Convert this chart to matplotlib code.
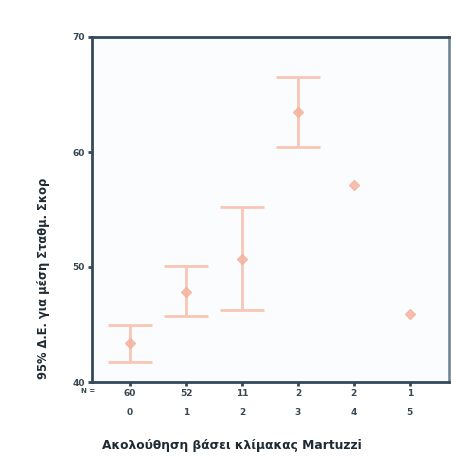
import matplotlib
matplotlib.use("Agg")
import matplotlib.pyplot as plt

# Groups (follow-up score) and 95% CI of the mean
categories = [0, 1, 2, 3, 4, 5]
counts = ["60", "52", "11", "2", "2", "1"]
means = [43.4, 47.8, 50.7, 63.5, 57.1, 45.9]
ci_low = [41.7, 45.7, 46.3, 60.4, 57.1, 45.9]
ci_high = [45.0, 50.1, 55.2, 66.5, 57.1, 45.9]

y_ticks = [40, 50, 60, 70]
x_label = "Ακολούθηση βάσει κλίμακας Martuzzi"
y_label = "95% Δ.Ε. για μέση Σταθμ. Σκορ"

bar_color = "#f8c6b4"
axis_color = "#34495a"

fig = plt.figure(figsize=(4.57, 4.58), dpi=100)
fig.patch.set_facecolor("white")
ax = fig.add_axes([92 / 457, 1 - 382 / 458, (449 - 92) / 457, (382 - 37) / 458])
ax.set_facecolor("#fbfcfe")

lower_err = [m - lo for m, lo in zip(means, ci_low)]
upper_err = [hi - m for m, hi in zip(means, ci_high)]
for x, m, le, ue in zip(categories, means, lower_err, upper_err):
    if le > 0 or ue > 0:
        ax.errorbar([x], [m], yerr=[[le], [ue]], fmt="none", ecolor=bar_color,
                    elinewidth=2.0, capsize=16, capthick=2.0, zorder=2)
ax.plot(categories, means, linestyle="none", marker="D", markersize=5,
        color="#f4b29c", alpha=0.8, zorder=3)

ax.set_xlim(-0.68, 5.7)
ax.set_ylim(40, 70)
ax.set_yticks(y_ticks)
ax.set_yticklabels([str(t) for t in y_ticks], fontsize=6.5, fontweight="bold",
                   color="#3a4750")
ax.set_xticks(categories)
ax.set_xticklabels([f"{c}\n\n{k}" for c, k in zip(counts, categories)],
                   fontsize=6.5, fontweight="bold", color="#3a4750",
                   linespacing=1.1)
ax.tick_params(axis="both", length=3, width=2, color=axis_color, pad=2)

for side in ["left", "bottom", "top"]:
    ax.spines[side].set_color(axis_color)
    ax.spines[side].set_linewidth(2)
ax.spines["right"].set_color("#6b7f8c")
ax.spines["right"].set_linewidth(1.8)

fig.text(88 / 457, 1 - 391 / 458, "N =", fontsize=5, fontweight="bold",
         color="#3a4750", ha="center", va="center")

fig.text(232 / 457, 1 - 446 / 458, x_label, fontsize=8.8, fontweight="bold",
         color="#1e2a33", ha="center", va="center")
fig.text(44 / 457, 1 - 278 / 458, y_label, fontsize=8.3, fontweight="bold",
         color="#1e2a33", ha="center", va="center", rotation=90)

fig.savefig("out.png", dpi=100, facecolor="white")
